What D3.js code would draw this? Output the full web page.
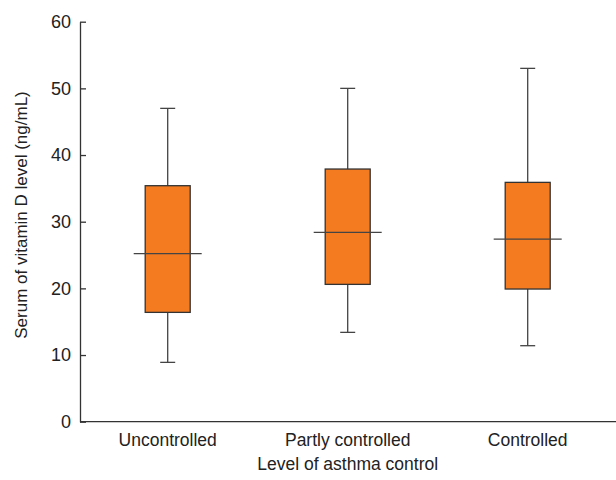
<!DOCTYPE html>
<html>
<head>
<meta charset="utf-8">
<script src="https://cdn.jsdelivr.net/npm/d3@7"></script>
<style>
  html, body { margin: 0; padding: 0; background: #fff; }
  svg { display: block; }
  text { font-family: "Liberation Sans", Arial, sans-serif; fill: #222; }
</style>
</head>
<body>
<svg id="chart" width="616" height="480"></svg>
<script>
const categories = ["Uncontrolled", "Partly controlled", "Controlled"];
const whiskerLow  = [8.9, 13.4, 11.4];
const q1          = [16.4, 20.6, 19.9];
const median      = [25.2, 28.4, 27.4];
const q3          = [35.4, 37.9, 35.9];
const whiskerHigh = [47, 50, 53];
const yTicks = [0, 10, 20, 30, 40, 50, 60];
const yTitle = "Serum of vitamin D level (ng/mL)";
const xTitle = "Level of asthma control";

const mLeft = 80, mTop = 21.7, mBottom = 421.7, mRight = 616;
const svg = d3.select("#chart");

const y = d3.scaleLinear().domain([0, 60]).range([mBottom, mTop]);
const x = d3.scalePoint().domain(categories).range([167.7, 527.7]);

const boxW = 45, medW = 68, capW = 15;
const lineCol = "#444";

const data = categories.map((c, i) => ({
  c, lo: whiskerLow[i], q1: q1[i], med: median[i], q3: q3[i], hi: whiskerHigh[i]
}));

const g = svg.append("g");
const box = g.selectAll("g.box").data(data).join("g").attr("class", "box");

// whiskers
box.append("line")
  .attr("x1", d => x(d.c)).attr("x2", d => x(d.c))
  .attr("y1", d => y(d.hi)).attr("y2", d => y(d.q3))
  .attr("stroke", lineCol).attr("stroke-width", 1.3);
box.append("line")
  .attr("x1", d => x(d.c)).attr("x2", d => x(d.c))
  .attr("y1", d => y(d.q1)).attr("y2", d => y(d.lo))
  .attr("stroke", lineCol).attr("stroke-width", 1.3);
// caps
box.append("line")
  .attr("x1", d => x(d.c) - capW / 2).attr("x2", d => x(d.c) + capW / 2)
  .attr("y1", d => y(d.hi)).attr("y2", d => y(d.hi))
  .attr("stroke", lineCol).attr("stroke-width", 1.3);
box.append("line")
  .attr("x1", d => x(d.c) - capW / 2).attr("x2", d => x(d.c) + capW / 2)
  .attr("y1", d => y(d.lo)).attr("y2", d => y(d.lo))
  .attr("stroke", lineCol).attr("stroke-width", 1.3);
// boxes
box.append("rect")
  .attr("x", d => x(d.c) - boxW / 2)
  .attr("width", boxW)
  .attr("y", d => y(d.q3))
  .attr("height", d => y(d.q1) - y(d.q3))
  .attr("fill", "#F47B20")
  .attr("stroke", "#333").attr("stroke-width", 1.3);
// medians
box.append("line")
  .attr("x1", d => x(d.c) - medW / 2).attr("x2", d => x(d.c) + medW / 2)
  .attr("y1", d => y(d.med)).attr("y2", d => y(d.med))
  .attr("stroke", lineCol).attr("stroke-width", 1.3);

// y axis
const yAxis = d3.axisLeft(y).tickValues(yTicks).tickSizeInner(-6).tickSizeOuter(0).tickPadding(9);
const ya = svg.append("g").attr("transform", `translate(${mLeft},0)`).call(yAxis);
ya.select(".domain").attr("stroke", "#333").attr("stroke-width", 1.3);
ya.selectAll(".tick line").attr("stroke", "#333").attr("stroke-width", 1.3);
ya.selectAll(".tick text").attr("font-size", 18).attr("fill", "#222")
  .attr("font-family", "'Liberation Sans Narrow', 'Liberation Sans', Arial, sans-serif");

// x axis line
svg.append("line").attr("x1", mLeft).attr("x2", mRight).attr("y1", mBottom).attr("y2", mBottom)
  .attr("stroke", "#333").attr("stroke-width", 1.3);

// x labels
svg.append("g").selectAll("text").data(categories).join("text")
  .attr("x", d => x(d)).attr("y", 445.7)
  .attr("text-anchor", "middle").attr("font-size", 17.5)
  .text(d => d);

svg.append("text").attr("x", 347.7).attr("y", 470)
  .attr("text-anchor", "middle").attr("font-size", 17.5).text(xTitle);

svg.append("text")
  .attr("transform", "translate(26.5,215) rotate(-90)")
  .attr("text-anchor", "middle").attr("font-size", 17).text(yTitle);
</script>
</body>
</html>
